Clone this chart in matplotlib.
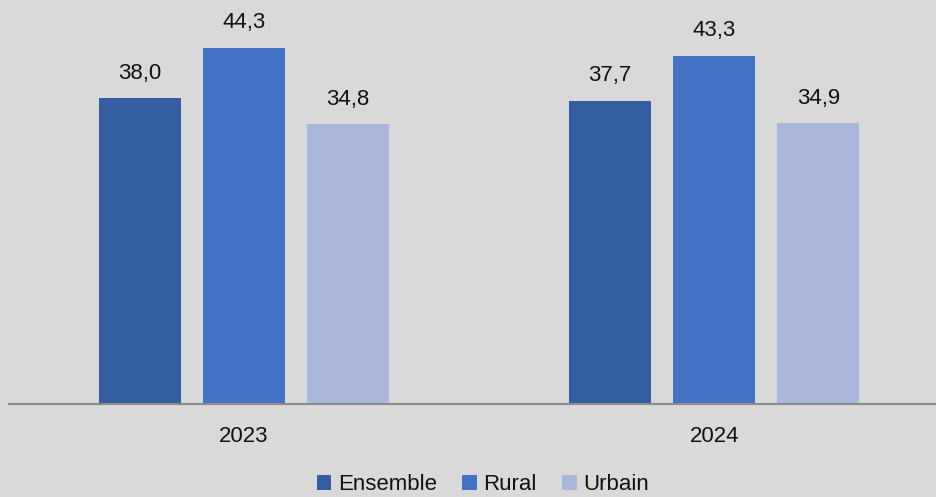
import matplotlib
matplotlib.use("Agg")
import matplotlib.pyplot as plt
import numpy as np

# Values per year and zone
years = ["2023", "2024"]
series = ["Ensemble", "Rural", "Urbain"]
ensemble = [38.0, 37.7]
rural = [44.3, 43.3]
urbain = [34.8, 34.9]

colors = ["#355EA0", "#4472C4", "#A9B7DC"]
bg = "#D9D9D9"

plt.rcParams["font.family"] = ["Liberation Sans", "DejaVu Sans"]

fig = plt.figure(figsize=(9.37, 4.97), dpi=100, facecolor=bg)
ax = fig.add_axes([9 / 937, 1 - 404 / 497, 928 / 937, 402 / 497])
ax.set_facecolor(bg)

x = np.arange(len(years))
width = 0.1745
step = 0.2213
for i, (name, vals) in enumerate(zip(series, [ensemble, rural, urbain])):
    pos = x + (i - 1) * step
    bars = ax.bar(pos, vals, width, color=colors[i], label=name, zorder=2)
    for b, v in zip(bars, vals):
        ax.annotate(f"{v:.1f}".replace(".", ","),
                    (b.get_x() + b.get_width() / 2, v),
                    xytext=(0, 10.5), textcoords="offset points",
                    ha="center", va="bottom", fontsize=16, color="#111111")

ax.set_xlim(-0.5, 1.474)
ax.set_ylim(0, 50)
ax.set_xticks(x)
ax.set_xticklabels(years, fontsize=16, color="#111111")
ax.tick_params(axis="x", length=0, pad=16)
ax.set_yticks([])
for s in ["top", "right", "left"]:
    ax.spines[s].set_visible(False)
ax.spines["bottom"].set_color("#8C8C8C")
ax.spines["bottom"].set_linewidth(1.5)

leg = fig.legend(loc="center", bbox_to_anchor=(483 / 937, 1 - 485 / 497),
                 ncol=3, frameon=False, fontsize=16, handlelength=0.65,
                 handleheight=0.65, handletextpad=0.3, columnspacing=1.15,
                 labelcolor="#111111", borderpad=0.2)

fig.savefig("out.png", dpi=100, facecolor=bg)
